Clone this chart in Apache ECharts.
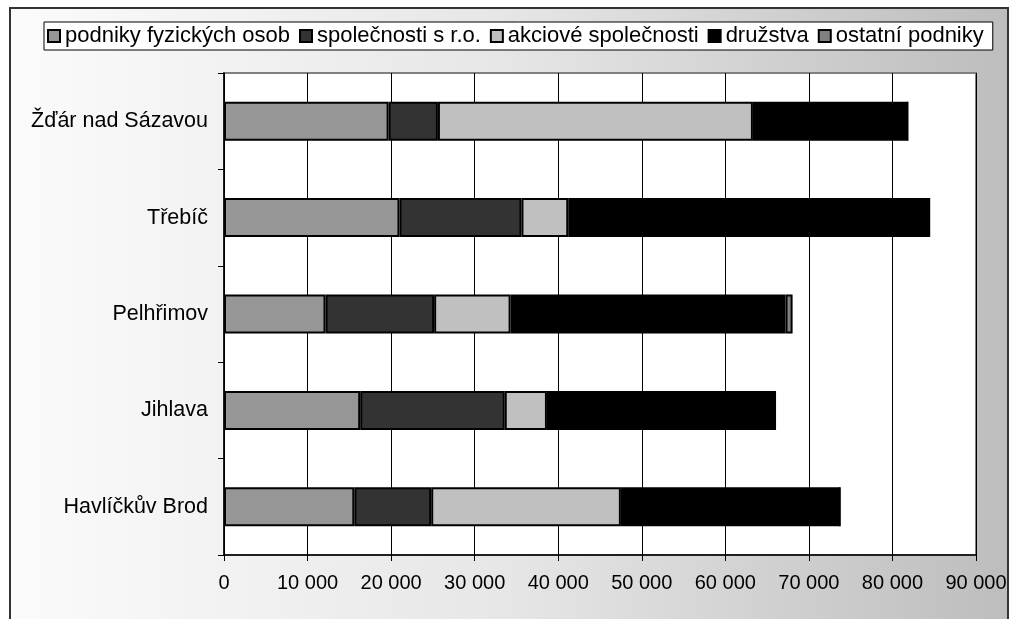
<!DOCTYPE html>
<html>
<head>
<meta charset="utf-8">
<script src="https://cdn.jsdelivr.net/npm/echarts@6/dist/echarts.min.js"></script>
<style>
html,body{margin:0;padding:0;background:#fff;}
#c{width:1018px;height:619px;}
</style>
</head>
<body>
<div id="c"></div>
<script>
const categories = ['Havlíčkův Brod', 'Jihlava', 'Pelhřimov', 'Třebíč', 'Žďár nad Sázavou'];
const seriesNames = ['podniky fyzických osob', 'společnosti s r.o.', 'akciové společnosti', 'družstva', 'ostatní podniky'];
const podnikyFyzickychOsob = [15600, 16300, 12150, 21000, 19700];
const spolecnostiSro = [9200, 17300, 13000, 14600, 5900];
const akcioveSpolecnosti = [22700, 5050, 9150, 5600, 37700];
const druzstva = [26200, 27300, 32900, 43200, 18500];
const ostatniPodniky = [0, 0, 850, 0, 0];
const xTicks = [0, 10000, 20000, 30000, 40000, 50000, 60000, 70000, 80000, 90000];
const colors = ['#969696', '#333333', '#c0c0c0', '#000000', '#808080'];

const values = [podnikyFyzickychOsob, spolecnostiSro, akcioveSpolecnosti, druzstva, ostatniPodniky];
const font = 'Liberation Sans, Arial, sans-serif';

const chart = echarts.init(document.getElementById('c'));
chart.setOption({
  animation: false,
  textStyle: { fontFamily: font },
  graphic: [{
    type: 'rect', z: -100, silent: true,
    shape: { x: 10, y: 8, width: 998, height: 650 },
    style: {
      fill: new echarts.graphic.LinearGradient(0, 0, 1, 0, [
        { offset: 0, color: '#fbfbfb' },
        { offset: 0.5, color: '#e6e6e6' },
        { offset: 1, color: '#bdbdbd' }
      ]),
      stroke: '#333', lineWidth: 2
    }
  }],
  legend: {
    top: 22, left: 44, width: 951,
    padding: [3, 9, 3, 3],
    backgroundColor: '#fff', borderColor: '#000', borderWidth: 1,
    itemWidth: 12, itemHeight: 12, itemGap: 9,
    icon: 'rect',
    textStyle: { fontSize: 22, color: '#000', fontFamily: font },
    data: seriesNames
  },
  grid: {
    left: 224, right: 42, top: 73, bottom: 64,
    show: true, backgroundColor: '#fff', borderColor: '#808080', borderWidth: 2
  },
  xAxis: {
    type: 'value', min: 0, max: 90000, interval: 10000,
    axisLine: { show: true, lineStyle: { color: '#000', width: 1.5 } },
    axisTick: { show: true, length: 6, lineStyle: { color: '#000' } },
    splitLine: { show: true, lineStyle: { color: '#000', width: 1 } },
    axisLabel: {
      fontSize: 20, color: '#000', margin: 18, fontFamily: font,
      formatter: v => xTicks.includes(v) ? String(v).replace(/\B(?=(\d{3})+(?!\d))/g, ' ') : ''
    }
  },
  yAxis: {
    type: 'category', data: categories,
    axisLine: { show: true, lineStyle: { color: '#000', width: 1.5 } },
    axisTick: { show: true, length: 6, lineStyle: { color: '#000' } },
    axisLabel: { fontSize: 21.5, color: '#000', margin: 16, fontFamily: font }
  },
  series: seriesNames.map((name, i) => ({
    name, type: 'bar', stack: 'total', barWidth: 39,
    itemStyle: { color: colors[i], borderColor: '#000', borderWidth: 2 },
    data: values[i]
  }))
});
</script>
</body>
</html>
